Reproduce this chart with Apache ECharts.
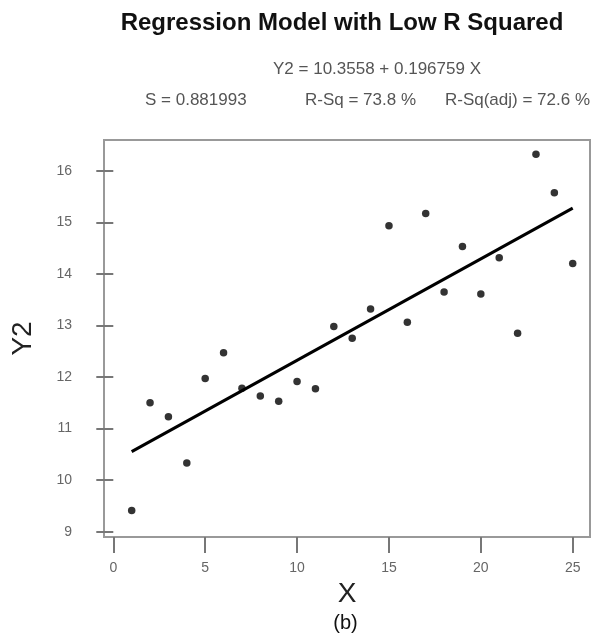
<!DOCTYPE html>
<html><head><meta charset="utf-8">
<script src="https://cdn.jsdelivr.net/npm/echarts@6/dist/echarts.min.js"></script>
<style>html,body{margin:0;padding:0;background:#fff}#c{width:604px;height:638px}</style>
</head><body><div id="c"></div>
<script>
const xValues = [1,2,3,4,5,6,7,8,9,10,11,12,13,14,15,16,17,18,19,20,21,22,23,24,25];
const y2Values = [9.41,11.50,11.23,10.33,11.97,12.47,11.78,11.63,11.53,11.91,11.77,12.98,12.75,13.32,14.93,13.06,15.17,13.65,14.53,13.61,14.31,12.85,16.32,15.57,14.20];
const fitX = [1, 25];
const fitY = [10.553, 15.275];
const xTicks = [0,5,10,15,20,25];
const yTicks = [9,10,11,12,13,14,15,16];
const titleText = 'Regression Model with Low R Squared';
const equationText = 'Y2 = 10.3558 + 0.196759 X';
const statTexts = ['S = 0.881993', 'R-Sq = 73.8 %', 'R-Sq(adj) = 72.6 %'];

const chart = echarts.init(document.getElementById('c'), null, {renderer:'canvas'});
const pts = xValues.map((x,i)=>[x, y2Values[i]]);
const fit = fitX.map((x,i)=>[x, fitY[i]]);
const subFont = "'Liberation Sans', Arial, sans-serif";
chart.setOption({
  animation:false,
  backgroundColor:'#fff',
  title:{
    text:titleText, left:342, top:11, padding:0, textAlign:'center',
    textStyle:{fontFamily:"'Liberation Sans', Arial, sans-serif", fontSize:24, fontWeight:'bold', color:'#111'}
  },
  graphic:[
    {type:'text', x:377, y:69, style:{text:equationText, align:'center', verticalAlign:'middle', font:"17px "+subFont, fill:'#555'}},
    {type:'text', x:145, y:100, style:{text:statTexts[0], align:'left', verticalAlign:'middle', font:"17px "+subFont, fill:'#555'}},
    {type:'text', x:305, y:100, style:{text:statTexts[1], align:'left', verticalAlign:'middle', font:"17px "+subFont, fill:'#555'}},
    {type:'text', x:590, y:100, style:{text:statTexts[2], align:'right', verticalAlign:'middle', font:"17px "+subFont, fill:'#555'}},
    {type:'text', x:345.5, y:623, style:{text:'(b)', align:'center', verticalAlign:'middle', font:"20px "+subFont, fill:'#111'}}
  ],
  grid:{left:104, right:14, top:140, bottom:101, show:true, borderColor:'#999', borderWidth:2, backgroundColor:'#fff'},
  xAxis:{
    type:'value', min:-0.506, max:25.94,
    name:'X', nameLocation:'middle', nameGap:43,
    nameTextStyle:{fontSize:28, color:'#222', fontFamily:subFont},
    axisLine:{show:false},
    axisTick:{show:true, inside:false, length:16, customValues:xTicks, lineStyle:{color:'#777', width:2}},
    axisLabel:{customValues:xTicks, margin:24, fontSize:14, color:'#666', fontFamily:subFont},
    splitLine:{show:false}
  },
  yAxis:{
    type:'value', min:8.897, max:16.595,
    name:'Y2', nameLocation:'middle', nameGap:67, nameRotate:90,
    nameTextStyle:{fontSize:28, color:'#222', fontFamily:subFont},
    axisLine:{show:false},
    axisTick:{show:true, inside:false, length:17, customValues:yTicks, lineStyle:{color:'#777', width:2}},
    axisLabel:{customValues:yTicks, margin:32, fontSize:14, color:'#666', fontFamily:subFont},
    splitLine:{show:false}
  },
  series:[
    {type:'line', data:fit, showSymbol:false, symbol:'none', lineStyle:{color:'#000', width:3}, z:2},
    {type:'scatter', data:pts, symbol:'circle', symbolSize:7.5, itemStyle:{color:'#000'}, z:3}
  ]
});
</script></body></html>
